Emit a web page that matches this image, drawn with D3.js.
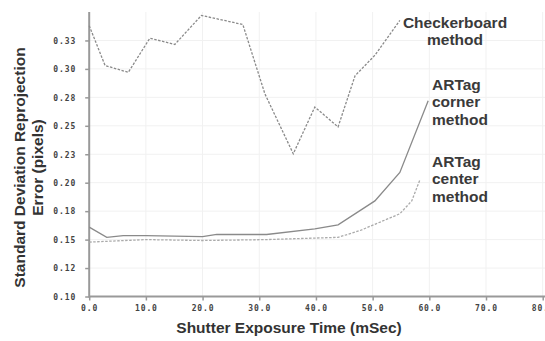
<!DOCTYPE html>
<html>
<head>
<meta charset="utf-8">
<script src="https://cdn.jsdelivr.net/npm/d3@7"></script>
<style>
  body { margin: 0; background: #fff; }
  svg { display: block; }
</style>
</head>
<body>
<figure id="chart" style="margin:0"></figure>
<script>
// x ticks / y ticks
const xTicks = [0, 10, 20, 30, 40, 50, 60, 70, 80];
const yTicks = [0.1, 0.125, 0.15, 0.175, 0.2, 0.225, 0.25, 0.275, 0.3, 0.325];
const yTickLabels = ["0.10", "0.12", "0.15", "0.18", "0.20", "0.23", "0.25", "0.28", "0.30", "0.33"];

// series (x in mSec, y in pixels)
const checkerX = [0, 2.8, 6.9, 10.7, 15.1, 19.8, 27.1, 31.0, 36.0, 39.8, 43.9, 46.9, 50.4, 54.8];
const checkerY = [0.338, 0.303, 0.297, 0.327, 0.3215, 0.347, 0.339, 0.278, 0.2254, 0.2665, 0.249, 0.294, 0.312, 0.3427];

const cornerX = [0, 3.1, 6.0, 10.0, 20.0, 22.5, 31.3, 39.8, 43.9, 50.4, 54.8, 59.8];
const cornerY = [0.161, 0.152, 0.1535, 0.1535, 0.1527, 0.1545, 0.1545, 0.1595, 0.163, 0.184, 0.209, 0.272];

const centerX = [0, 10.0, 20.0, 31.2, 43.9, 47.8, 54.8, 56.9, 58.3];
const centerY = [0.1478, 0.150, 0.1492, 0.150, 0.152, 0.158, 0.1727, 0.184, 0.202];

const width = 545, height = 341;
const x0 = 89.2, x1 = 542.7, yTop = 12, yBottom = 296.5;

const svg = d3.select("#chart").append("svg")
  .attr("width", width)
  .attr("height", height);

const x = d3.scaleLinear().domain([0, 80]).range([x0, x1]);
const y = d3.scaleLinear().domain([0.1, 0.35]).range([yBottom, yTop]);

// grid
svg.append("g").selectAll("line.vg")
  .data(xTicks.slice(1))
  .enter().append("line")
  .attr("x1", d => x(d)).attr("x2", d => x(d))
  .attr("y1", yTop).attr("y2", yBottom)
  .attr("stroke", "#f1f1f1").attr("stroke-width", 1);
svg.append("g").selectAll("line.hg")
  .data(yTicks.slice(1))
  .enter().append("line")
  .attr("x1", x0).attr("x2", width)
  .attr("y1", d => y(d)).attr("y2", d => y(d))
  .attr("stroke", "#f1f1f1").attr("stroke-width", 1);

// axes
const xAxis = svg.append("g")
  .attr("transform", "translate(0," + yBottom + ")")
  .call(d3.axisBottom(x).tickValues(xTicks).tickSize(4).tickPadding(5)
    .tickFormat(d3.format(".1f")).tickSizeOuter(0));
const yAxis = svg.append("g")
  .attr("transform", "translate(" + x0 + ",0)")
  .call(d3.axisLeft(y).tickValues(yTicks).tickSize(4).tickPadding(9)
    .tickFormat((d, i) => yTickLabels[i]).tickSizeOuter(0));

[xAxis, yAxis].forEach(a => {
  a.select(".domain").attr("stroke", "#999").attr("stroke-width", 2);
  a.selectAll(".tick line").attr("stroke", "#999").attr("stroke-width", 1.5);
  a.selectAll("text")
    .attr("fill", "#444")
    .style("font-family", "'DejaVu Sans Mono', monospace")
    .style("font-weight", "bold")
    .style("font-size", "8px")
    .style("letter-spacing", "0.9px");
});
xAxis.select(".domain").attr("d", "M" + x0 + ",0H" + width);
yAxis.select(".domain").attr("d", "M0," + yTop + "V" + (yBottom + 1));
yAxis.selectAll("text").attr("dy", "0.35em");

// lines
const line = d3.line().x(d => x(d[0])).y(d => y(d[1]));

svg.append("path")
  .datum(d3.zip(checkerX, checkerY))
  .attr("d", line)
  .attr("fill", "none")
  .attr("stroke", "#8a8a8a")
  .attr("stroke-width", 1.3)
  .attr("stroke-dasharray", "2.5,1.5");

svg.append("path")
  .datum(d3.zip(cornerX, cornerY))
  .attr("d", line)
  .attr("fill", "none")
  .attr("stroke", "#8a8a8a")
  .attr("stroke-width", 1.3);

svg.append("path")
  .datum(d3.zip(centerX, centerY))
  .attr("d", line)
  .attr("fill", "none")
  .attr("stroke", "#aaaaaa")
  .attr("stroke-width", 1.3)
  .attr("stroke-dasharray", "2.5,1.5");

// annotations
const fontBold = "'Liberation Sans', Arial, sans-serif";
function label(lines, tx, ty, anchor) {
  const t = svg.append("text")
    .attr("x", tx).attr("y", ty)
    .attr("text-anchor", anchor)
    .attr("fill", "#3a3a3a")
    .style("font-family", fontBold)
    .style("font-weight", "bold")
    .style("font-size", "15.5px");
  lines.forEach((s, i) => t.append("tspan").attr("x", tx).attr("dy", i ? 17.3 : 0).text(s));
}
label(["Checkerboard", "method"], 455, 28, "middle");
label(["ARTag", "corner", "method"], 432, 90, "start");
label(["ARTag", "center", "method"], 432, 167, "start");

// axis titles
svg.append("text")
  .attr("x", 289).attr("y", 333)
  .attr("text-anchor", "middle")
  .attr("fill", "#333")
  .style("font-family", fontBold).style("font-weight", "bold").style("font-size", "15.5px")
  .text("Shutter Exposure Time (mSec)");

const yt = svg.append("text")
  .attr("transform", "translate(25,167.5) rotate(-90)")
  .attr("text-anchor", "middle")
  .attr("fill", "#333")
  .style("font-family", fontBold).style("font-weight", "bold").style("font-size", "15.5px");
yt.append("tspan").attr("x", 0).attr("y", 0).text("Standard Deviation Reprojection");
yt.append("tspan").attr("x", 0).attr("y", 18).text("Error (pixels)");
</script>
</body>
</html>
